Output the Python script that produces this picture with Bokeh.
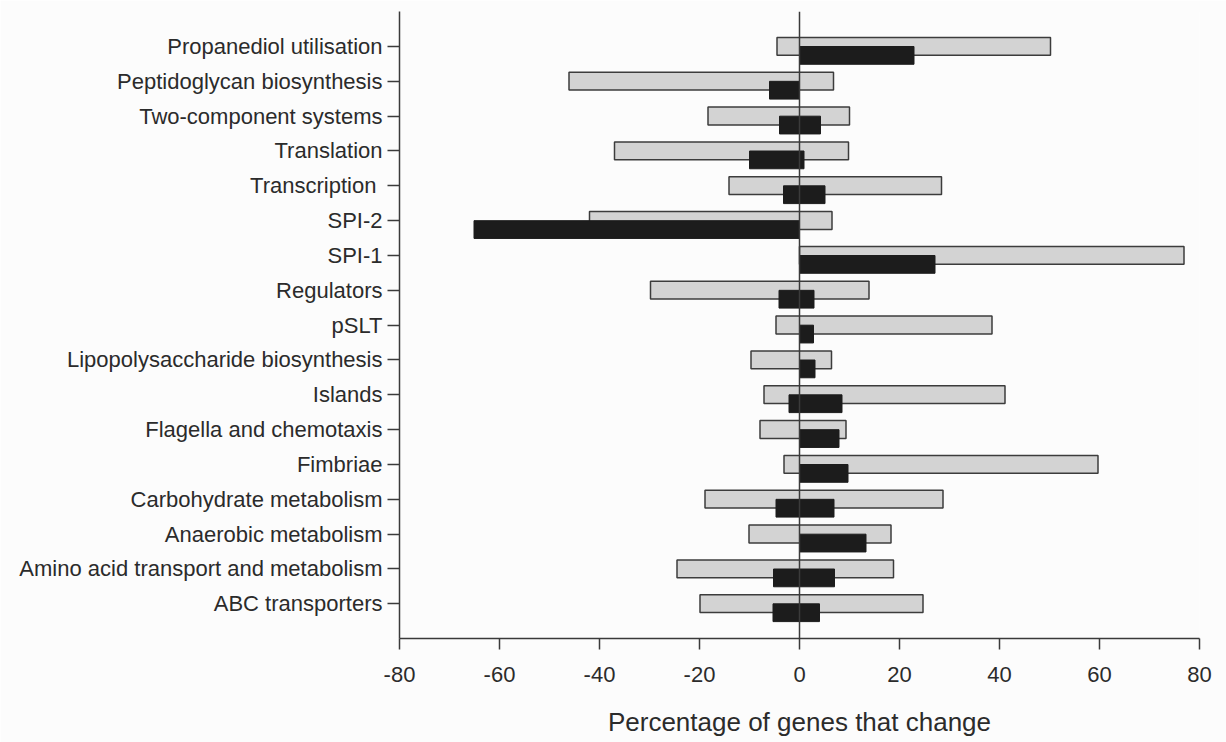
from bokeh.plotting import figure
from bokeh.models import Range1d, FixedTicker, Span
from bokeh.embed import file_html
from bokeh.resources import INLINE

# Functional categories, listed top to bottom
categories = [
    "Propanediol utilisation",
    "Peptidoglycan biosynthesis",
    "Two-component systems",
    "Translation",
    "Transcription ",
    "SPI-2",
    "SPI-1",
    "Regulators",
    "pSLT",
    "Lipopolysaccharide biosynthesis",
    "Islands",
    "Flagella and chemotaxis",
    "Fimbriae",
    "Carbohydrate metabolism",
    "Anaerobic metabolism",
    "Amino acid transport and metabolism",
    "ABC transporters",
]

# Light series: percentage of genes down (negative) and up (positive)
light_down = [-4.5, -46.1, -18.3, -37.0, -14.1, -42.0, 0.0, -29.8, -4.7, -9.7,
              -7.1, -7.9, -3.1, -18.9, -10.1, -24.5, -19.9]
light_up = [50.2, 6.8, 10.0, 9.8, 28.4, 6.5, 76.9, 13.9, 38.5, 6.4,
            41.1, 9.3, 59.7, 28.7, 18.3, 18.8, 24.7]

# Dark series: percentage of genes down (negative) and up (positive)
dark_down = [0.0, -6.0, -4.0, -10.0, -3.2, -65.1, 0.0, -4.1, 0.0, 0.0,
             -2.1, 0.0, 0.0, -4.7, 0.0, -5.2, -5.3]
dark_up = [22.9, 0.0, 4.2, 0.9, 5.1, 0.0, 27.1, 2.9, 2.8, 3.1,
           8.5, 7.9, 9.7, 6.9, 13.3, 7.0, 4.0]

x_ticks = [-80, -60, -40, -20, 0, 20, 40, 60, 80]
x_tick_labels = ["-80", "-60", "-40", "-20", "0", "20", "40", "60", "80"]

n = len(categories)
ypos = [n - 1 - i for i in range(n)]
dark_y = [y - 0.26 for y in ypos]

FONT = "Liberation Sans"
TEXT = "#2b2b2b"
LINE = "#3a3a3a"
BG = "#fcfcfc"

p = figure(
    frame_width=800, frame_height=627,
    min_border_left=399, min_border_right=27,
    min_border_top=11, min_border_bottom=104,
    x_range=Range1d(-80, 80), y_range=Range1d(-1, n),
    output_backend="svg", toolbar_location=None,
)
p.background_fill_color = BG
p.border_fill_color = BG
p.outline_line_color = None
p.xgrid.visible = False
p.ygrid.visible = False

# Light bars (centred on each category)
p.hbar(y=ypos, left=light_down, right=light_up, height=0.51,
       fill_color="#d3d3d3", line_color="#3c3c3c", line_width=1.5)
# Dark bars (shifted just below, drawn on top)
p.hbar(y=dark_y, left=dark_down, right=dark_up, height=0.51,
       fill_color="#1c1c1c", line_color="#1c1c1c", line_width=1)

# Vertical line at zero
p.add_layout(Span(location=0, dimension="height", line_color=LINE, line_width=1.5))

# Y axis with category names
ya = p.yaxis[0]
ya.ticker = FixedTicker(ticks=ypos)
ya.major_label_overrides = {y: c for y, c in zip(ypos, categories)}
ya.minor_tick_line_color = None
ya.major_tick_in = 0
ya.major_tick_out = 12
ya.major_label_standoff = 5
ya.axis_line_color = LINE
ya.axis_line_width = 1.5
ya.major_tick_line_color = LINE
ya.major_tick_line_width = 1.5
ya.major_label_text_font = FONT
ya.major_label_text_font_size = "22px"
ya.major_label_text_color = TEXT

# X axis
xa = p.xaxis[0]
xa.ticker = FixedTicker(ticks=x_ticks)
xa.major_label_overrides = {t: s for t, s in zip(x_ticks, x_tick_labels)}
xa.minor_tick_line_color = None
xa.major_tick_in = 0
xa.major_tick_out = 11
xa.major_label_standoff = 17
xa.axis_line_color = LINE
xa.axis_line_width = 1.5
xa.major_tick_line_color = LINE
xa.major_tick_line_width = 1.5
xa.major_label_text_font = FONT
xa.major_label_text_font_size = "22px"
xa.major_label_text_color = TEXT
xa.axis_label = "Percentage of genes that change"
xa.axis_label_text_font = FONT
xa.axis_label_text_font_size = "26px"
xa.axis_label_text_font_style = "normal"
xa.axis_label_text_color = TEXT
xa.axis_label_standoff = 22

open("out.html", "w").write(file_html(p, INLINE))
